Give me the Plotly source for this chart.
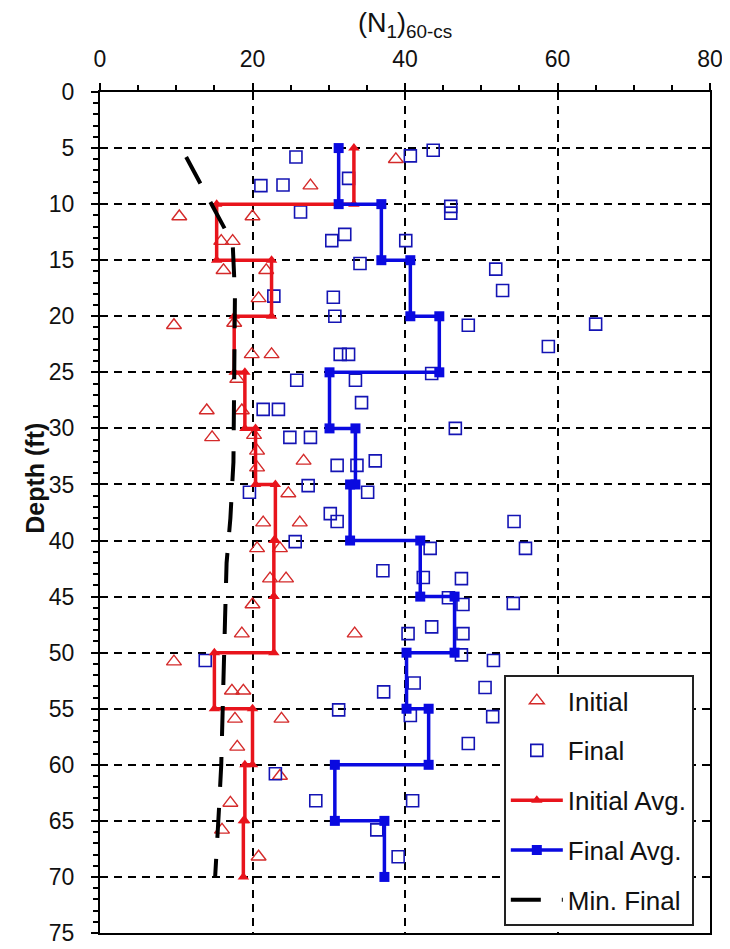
import plotly.graph_objects as go

# ---------------- data ----------------
init_val = [38.8, 27.6, 10.4, 20.0, 15.9, 17.4, 16.2, 21.8, 20.8, 9.7, 17.6, 19.9, 22.5,
            18.0, 14.0, 18.6, 14.7, 20.2, 20.6, 26.7, 20.6, 24.7, 21.4, 26.2, 20.6, 23.6,
            22.3, 24.4, 20.0, 18.6, 33.4, 9.7, 17.3, 18.8, 17.7, 23.8, 18.0, 23.6, 17.1,
            16.0, 20.8]
init_depth = [6.0, 8.35, 11.1, 11.1, 13.3, 13.3, 15.9, 15.9, 18.4, 20.8, 20.6, 23.4, 23.4,
              25.6, 28.4, 28.4, 30.8, 30.6, 32.0, 32.9, 33.5, 35.8, 38.4, 38.4, 40.7, 40.7,
              43.4, 43.4, 45.7, 48.3, 48.3, 50.8, 53.4, 53.4, 55.9, 55.9, 58.4, 61.0, 63.4,
              65.8, 68.2]

final_val = [25.7, 43.7, 40.7, 32.6, 21.1, 24.0, 26.3, 46.0, 46.0, 30.4, 32.1, 40.1, 34.1,
             51.9, 52.8, 22.8, 30.6, 30.8, 48.3, 65.0, 58.8, 31.5, 32.6, 25.8, 33.5, 43.5,
             34.3, 21.4, 23.4, 46.6, 24.9, 27.6, 31.1, 33.7, 36.1, 27.3, 19.6, 35.1, 30.2,
             31.1, 54.3, 25.6, 43.3, 55.8, 37.1, 42.4, 47.4, 45.7, 47.6, 54.2, 43.5, 40.4,
             47.6, 47.4, 13.8, 51.6, 41.2, 37.2, 50.5, 31.3, 40.7, 51.5, 48.3, 23.0, 28.3,
             41.0, 36.3, 39.1]
final_depth = [5.8, 5.2, 5.7, 7.7, 8.35, 8.3, 10.7, 10.2, 10.8, 13.25, 12.7, 13.25, 15.3,
               15.8, 17.7, 18.2, 18.3, 20.0, 20.8, 20.7, 22.7, 23.4, 23.4, 25.7, 25.7, 25.1,
               27.7, 28.3, 28.3, 30.0, 30.8, 30.8, 33.3, 33.3, 32.9, 35.1, 35.7, 35.7, 37.6,
               38.3, 38.3, 40.1, 40.7, 40.7, 42.7, 43.3, 43.4, 45.1, 45.7, 45.6, 47.7, 48.3,
               48.3, 50.2, 50.7, 50.7, 52.7, 53.5, 53.1, 55.1, 55.6, 55.7, 58.1, 60.8, 63.2,
               63.2, 65.8, 68.2]

avg_bounds = [5, 10, 15, 20, 25, 30, 35, 40, 45, 50, 55, 60, 65, 70]
init_avg = [33.3, 15.3, 22.5, 17.6, 19.0, 20.4, 23.0, 22.8, 22.8, 15.0, 20.0, 19.0, 18.8]
final_avg = [31.3, 36.9, 40.7, 44.5, 30.1, 33.5, 32.8, 42.0, 46.5, 40.2, 43.1, 30.8, 37.3]

min_depth = [5.8, 13.5, 18, 25, 33, 38, 42, 47, 52, 56, 60, 64, 70]
min_val = [11.3, 17.4, 17.7, 17.6, 17.5, 17.1, 16.6, 16.4, 16.2, 16.1, 15.9, 15.6, 15.1]

x_ticks = [0, 20, 40, 60, 80]
y_ticks = list(range(0, 80, 5))


def steps(bounds, vals):
    xs, ys = [], []
    for i, v in enumerate(vals):
        xs += [v, v]
        ys += [bounds[i], bounds[i + 1]]
    return xs, ys


ia_x, ia_y = steps(avg_bounds, init_avg)
fa_x, fa_y = steps(avg_bounds, final_avg)

RED = "#e8141c"
BLUE = "#0a0ae0"
FONT = "Liberation Sans, Arial, sans-serif"

fig = go.Figure()
fig.add_trace(go.Scatter(x=init_val, y=init_depth, mode="markers", name="Initial",
                         legendgroup="a",
                         marker=dict(symbol="triangle-up-open", size=13, color="#d42a2a",
                                     line=dict(width=1.4))))
fig.add_trace(go.Scatter(x=final_val, y=final_depth, mode="markers", name="Final",
                         legendgroup="b",
                         marker=dict(symbol="square-open", size=12, color="#1414b4",
                                     line=dict(width=1.6))))
fig.add_trace(go.Scatter(x=ia_x, y=ia_y, mode="lines+markers", name="Initial Avg.",
                         legendgroup="c",
                         line=dict(color=RED, width=3.5),
                         marker=dict(symbol="triangle-up", size=10, color=RED)))
fig.add_trace(go.Scatter(x=fa_x, y=fa_y, mode="lines+markers", name="Final Avg.",
                         legendgroup="d",
                         line=dict(color=BLUE, width=3.5),
                         marker=dict(symbol="square", size=10, color=BLUE)))
fig.add_trace(go.Scatter(x=min_val, y=min_depth, mode="lines", name="Min. Final",
                         legendgroup="e",
                         line=dict(color="black", width=4, dash="30px,21px")))

axis_common = dict(
    showline=True, linecolor="black", linewidth=2, mirror=True,
    showgrid=True, gridcolor="black", gridwidth=1.5, griddash="8px,6px",
    zeroline=False, ticks="outside", ticklen=7, tickwidth=1.5, tickcolor="black",
    tickfont=dict(family=FONT, size=23, color="#111"), automargin=False,
)

fig.update_layout(
    width=730, height=949,
    paper_bgcolor="white", plot_bgcolor="white",
    margin=dict(l=92, r=28, t=84, b=24),
    font=dict(family=FONT, color="#111"),
    xaxis=dict(axis_common, side="top", range=[0, 80], tickvals=x_ticks,
               ticklabelstandoff=7,
               minor=dict(dtick=5, ticks="outside", ticklen=5, tickcolor="black", showgrid=False),
               title=dict(text="(N<sub>1</sub>)<sub>60-cs</sub>",
                          font=dict(family=FONT, size=27, color="#111"), standoff=17)),
    yaxis=dict(axis_common, range=[75, 0], tickvals=y_ticks, ticklabelstandoff=12,
               minor=dict(dtick=1, ticks="outside", ticklen=5, tickcolor="black", showgrid=False)),
    showlegend=True,
    legend=dict(x=0.662, y=0.3066, xanchor="left", yanchor="top",
                bgcolor="white", bordercolor="#222", borderwidth=2,
                font=dict(family=FONT, size=26, color="#111"),
                traceorder="grouped", tracegroupgap=13, itemwidth=52),
    annotations=[dict(text="<b>Depth (ft)</b>", xref="paper", yref="paper",
                      x=-0.106, y=0.5405, xanchor="center", yanchor="middle",
                      textangle=-90, showarrow=False,
                      font=dict(family=FONT, size=25, color="#111"))],
)

fig.write_html("out.html")
